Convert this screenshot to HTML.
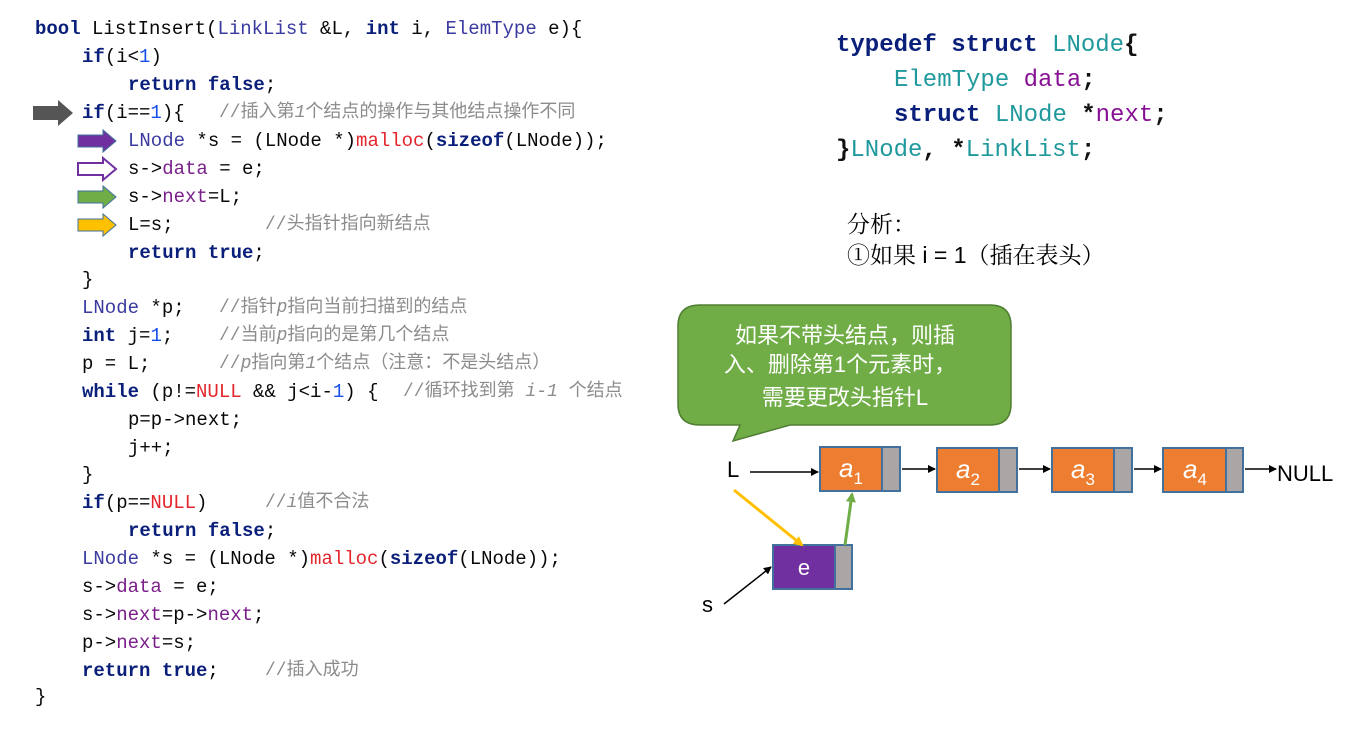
<!DOCTYPE html>
<html><head><meta charset="utf-8"><style>
body{margin:0;width:1370px;height:736px;background:#fff;position:relative;overflow:hidden;font-family:"Liberation Sans","Noto Sans CJK SC",sans-serif}
.c{position:absolute;font-family:"Liberation Mono","Noto Sans CJK SC",monospace;font-size:19px;white-space:pre;color:#080808;line-height:28px;height:28px}
.k{color:#0a1f7a;font-weight:bold}
.t{color:#3a3aa0}
.n{color:#1750eb}
.r{color:#e3262c}
.f{color:#7a1f8a}
.m{position:absolute;color:#8c8c8c;font-size:18px}
.i{font-style:italic}
.s{position:absolute;font-family:"Liberation Mono",monospace;font-size:24px;white-space:pre;color:#111;font-weight:bold}
.s .tt{color:#20999d;font-weight:normal}
.s .ff{color:#871094;font-weight:normal}
.s .kk{color:#0a1f7a}
</style></head><body>
<svg width="1370" height="736" style="position:absolute;left:0;top:0">
<polygon points="33,106 58,106 58,100 73,113 58,126 58,120 33,120" fill="#555"/>
<polygon points="78,135 103,135 103,130 116,141 103,152 103,147 78,147" fill="#7030a0" stroke="#41719c" stroke-width="1"/>
<polygon points="78,163 103,163 103,158 116,169 103,180 103,175 78,175" fill="#fff" stroke="#7030a0" stroke-width="2"/>
<polygon points="78,191 103,191 103,186 116,197 103,208 103,203 78,203" fill="#70ad47" stroke="#41719c" stroke-width="1"/>
<polygon points="78,219 103,219 103,214 116,225 103,236 103,231 78,231" fill="#ffc000" stroke="#41719c" stroke-width="1"/>
<path d="M700,305 H990 Q1011,305 1011,326 V404 Q1011,425 990,425 H790 L733,441 L740,425 H700 Q678,425 678,404 V326 Q678,305 700,305 Z" fill="#70ad47" stroke="#507e32" stroke-width="1.5"/>
<g stroke="#41719c" stroke-width="2">
<rect x="820" y="447" width="62" height="44" fill="#ed7d31"/><rect x="882" y="447" width="18" height="44" fill="#aaa6a6"/>
<rect x="937" y="448" width="62" height="44" fill="#ed7d31"/><rect x="999" y="448" width="18" height="44" fill="#aaa6a6"/>
<rect x="1052" y="448" width="62" height="44" fill="#ed7d31"/><rect x="1114" y="448" width="18" height="44" fill="#aaa6a6"/>
<rect x="1163" y="448" width="63" height="44" fill="#ed7d31"/><rect x="1226" y="448" width="17" height="44" fill="#aaa6a6"/>
<rect x="773" y="545" width="62" height="44" fill="#7030a0"/><rect x="835" y="545" width="17" height="44" fill="#aaa6a6"/>
</g>
<defs><marker id="a" markerWidth="8" markerHeight="8" refX="7" refY="4" orient="auto" markerUnits="userSpaceOnUse"><path d="M0,0 L8,4 L0,8 Z" fill="#000"/></marker>
<marker id="y" markerWidth="10" markerHeight="10" refX="8" refY="5" orient="auto" markerUnits="userSpaceOnUse"><path d="M0,0 L10,5 L0,10 Z" fill="#ffc000"/></marker>
<marker id="g" markerWidth="10" markerHeight="10" refX="8" refY="5" orient="auto" markerUnits="userSpaceOnUse"><path d="M0,0 L10,5 L0,10 Z" fill="#70ad47"/></marker></defs>
<g stroke="#000" stroke-width="1.5" fill="none">
<line x1="750" y1="472" x2="818" y2="472" marker-end="url(#a)"/>
<line x1="902" y1="469" x2="935" y2="469" marker-end="url(#a)"/>
<line x1="1019" y1="469" x2="1050" y2="469" marker-end="url(#a)"/>
<line x1="1134" y1="469" x2="1161" y2="469" marker-end="url(#a)"/>
<line x1="1245" y1="469" x2="1276" y2="469" marker-end="url(#a)"/>
<line x1="724" y1="604" x2="771" y2="567" marker-end="url(#a)"/>
</g>
<line x1="734" y1="490" x2="802" y2="545" stroke="#ffc000" stroke-width="3" marker-end="url(#y)"/>
<line x1="845" y1="545" x2="852" y2="494" stroke="#70ad47" stroke-width="3" marker-end="url(#g)"/>
<text x="851" y="477" fill="#fff" font-size="26" font-style="italic" text-anchor="middle" font-family="Liberation Sans">a<tspan font-size="17" dy="7" font-style="normal">1</tspan></text>
<text x="968" y="478" fill="#fff" font-size="26" font-style="italic" text-anchor="middle" font-family="Liberation Sans">a<tspan font-size="17" dy="7" font-style="normal">2</tspan></text>
<text x="1083" y="478" fill="#fff" font-size="26" font-style="italic" text-anchor="middle" font-family="Liberation Sans">a<tspan font-size="17" dy="7" font-style="normal">3</tspan></text>
<text x="1195" y="478" fill="#fff" font-size="26" font-style="italic" text-anchor="middle" font-family="Liberation Sans">a<tspan font-size="17" dy="7" font-style="normal">4</tspan></text>
<text x="804" y="575" fill="#fff" font-size="22" text-anchor="middle" font-family="Liberation Sans">e</text>
<text x="1277" y="481" fill="#000" font-size="22" font-family="Liberation Sans">NULL</text>
<text x="727" y="477" fill="#000" font-size="22" font-family="Liberation Sans">L</text>
<text x="702" y="612" fill="#000" font-size="22" font-family="Liberation Sans">s</text>
<g fill="#fff" font-size="22" text-anchor="middle" font-family="Liberation Sans,Noto Sans CJK SC,sans-serif">
<text x="845" y="343">如果不带头结点，则插</text>
<text x="840" y="372">入、删除第1个元素时，</text>
<text x="845" y="405">需要更改头指针L</text>
</g>
</svg>
<div class="c" style="left:35px;top:15px"><span class="k">bool</span> ListInsert(<span class="t">LinkList</span> &amp;L, <span class="k">int</span> i, <span class="t">ElemType</span> e){</div>
<div class="c" style="left:82px;top:43px"><span class="k">if</span>(i&lt;<span class="n">1</span>)</div>
<div class="c" style="left:128px;top:71px"><span class="k">return false</span>;</div>
<div class="c" style="left:82px;top:99px"><span class="k">if</span>(i==<span class="n">1</span>){<span class="m" style="left:137px">//插入第<span class="i">1</span>个结点的操作与其他结点操作不同</span></div>
<div class="c" style="left:128px;top:127px"><span class="t">LNode</span> *s = (LNode *)<span class="r">malloc</span>(<span class="k">sizeof</span>(LNode));</div>
<div class="c" style="left:128px;top:155px">s-&gt;<span class="f">data</span> = e;</div>
<div class="c" style="left:128px;top:183px">s-&gt;<span class="f">next</span>=L;</div>
<div class="c" style="left:128px;top:211px">L=s;<span class="m" style="left:137px">//头指针指向新结点</span></div>
<div class="c" style="left:128px;top:239px"><span class="k">return true</span>;</div>
<div class="c" style="left:82px;top:266px">}</div>
<div class="c" style="left:82px;top:294px"><span class="t">LNode</span> *p;<span class="m" style="left:137px">//指针<span class="i">p</span>指向当前扫描到的结点</span></div>
<div class="c" style="left:82px;top:322px"><span class="k">int</span> j=<span class="n">1</span>;<span class="m" style="left:137px">//当前<span class="i">p</span>指向的是第几个结点</span></div>
<div class="c" style="left:82px;top:350px">p = L;<span class="m" style="left:137px">//<span class="i">p</span>指向第<span class="i">1</span>个结点（注意：不是头结点）</span></div>
<div class="c" style="left:82px;top:378px"><span class="k">while</span> (p!=<span class="r">NULL</span> &amp;&amp; j&lt;i-<span class="n">1</span>) {<span class="m" style="left:321px">//循环找到第 <span class="i">i-1</span> 个结点</span></div>
<div class="c" style="left:128px;top:406px">p=p-&gt;next;</div>
<div class="c" style="left:128px;top:434px">j++;</div>
<div class="c" style="left:82px;top:461px">}</div>
<div class="c" style="left:82px;top:489px"><span class="k">if</span>(p==<span class="r">NULL</span>)<span class="m" style="left:183px">//<span class="i">i</span>值不合法</span></div>
<div class="c" style="left:128px;top:517px"><span class="k">return false</span>;</div>
<div class="c" style="left:82px;top:545px"><span class="t">LNode</span> *s = (LNode *)<span class="r">malloc</span>(<span class="k">sizeof</span>(LNode));</div>
<div class="c" style="left:82px;top:573px">s-&gt;<span class="f">data</span> = e;</div>
<div class="c" style="left:82px;top:601px">s-&gt;<span class="f">next</span>=p-&gt;<span class="f">next</span>;</div>
<div class="c" style="left:82px;top:629px">p-&gt;<span class="f">next</span>=s;</div>
<div class="c" style="left:82px;top:657px"><span class="k">return true</span>;<span class="m" style="left:183px">//插入成功</span></div>
<div class="c" style="left:35px;top:683px">}</div>
<div class="s" style="left:836px;top:32px"><span class="kk">typedef struct</span> <span class="tt">LNode</span>{</div>
<div class="s" style="left:894px;top:67px"><span class="tt">ElemType</span> <span class="ff">data</span>;</div>
<div class="s" style="left:894px;top:102px"><span class="kk">struct</span> <span class="tt">LNode</span> *<span class="ff">next</span>;</div>
<div class="s" style="left:836px;top:137px">}<span class="tt">LNode</span>, *<span class="tt">LinkList</span>;</div>
<div style="position:absolute;left:847px;top:209px;font-size:23px;line-height:31px;color:#000;font-family:'Liberation Sans','Noto Serif CJK SC',serif">分析：<br>①如果 i = 1（插在表头）</div>
</body></html>
